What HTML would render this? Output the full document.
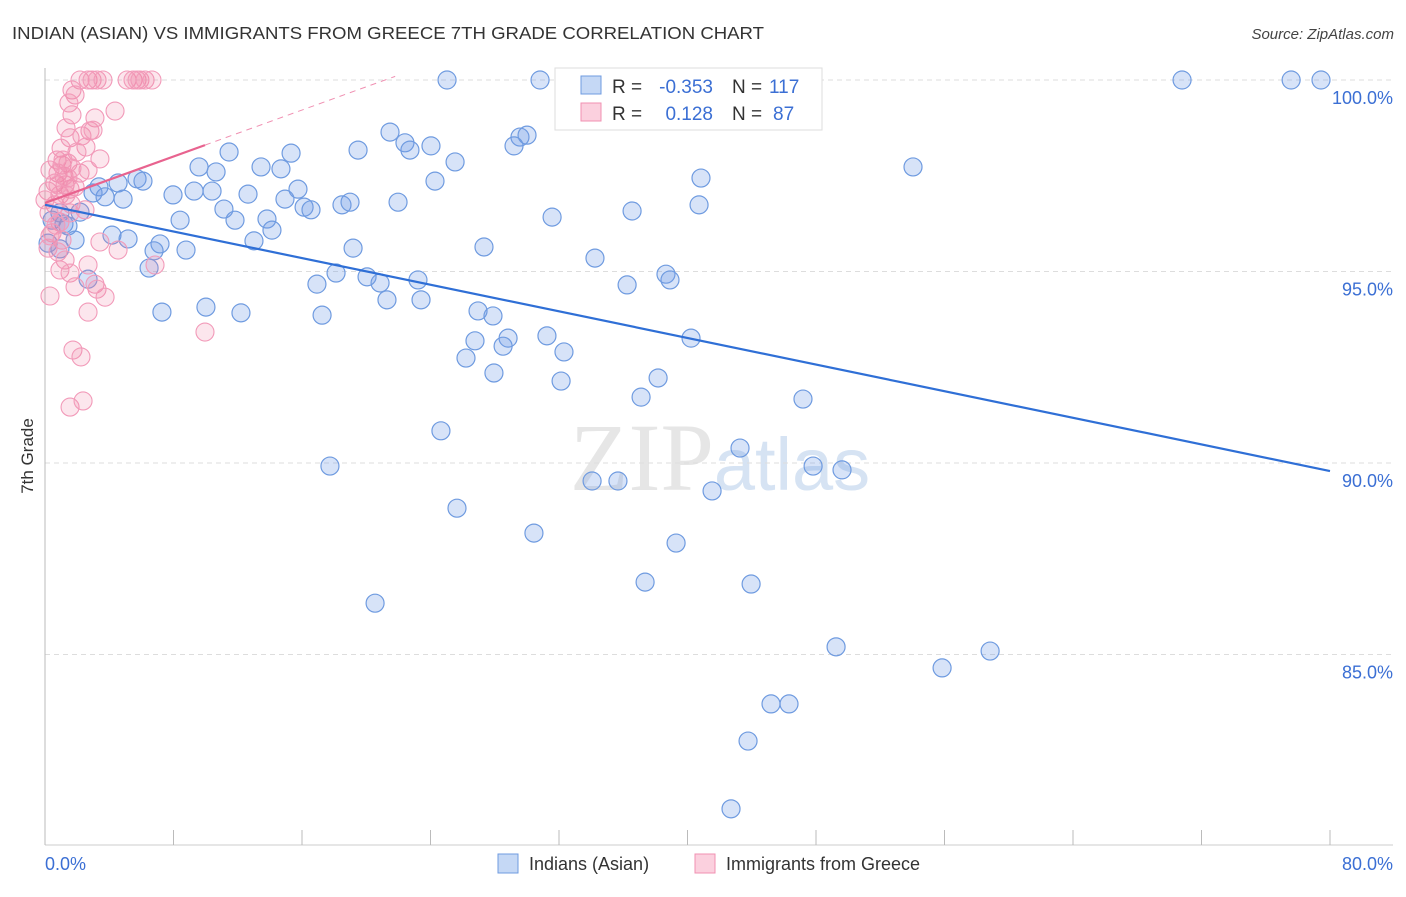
<!DOCTYPE html>
<html><head><meta charset="utf-8"><style>
body{margin:0;background:#fff;font-family:"Liberation Sans",sans-serif;}
</style></head><body>
<svg id="chart" width="1406" height="892" xmlns="http://www.w3.org/2000/svg" style="font-family:'Liberation Sans',sans-serif">
<text x="12" y="39" font-size="17.5" fill="#333" textLength="752" lengthAdjust="spacingAndGlyphs">INDIAN (ASIAN) VS IMMIGRANTS FROM GREECE 7TH GRADE CORRELATION CHART</text>
<text x="1394" y="39" font-size="15" fill="#444" text-anchor="end" font-style="italic">Source: ZipAtlas.com</text>
<text x="720" y="490" font-size="96" fill="#e6e6e6" text-anchor="middle" font-family="Liberation Serif,serif">ZIP<tspan fill="#d6e3f3" font-family="Liberation Sans,sans-serif" font-size="74">atlas</tspan></text>
<g id="grid"></g><g id="axes"></g><g id="pts"></g><g id="lines"></g>
<text transform="translate(33,456) rotate(-90)" font-size="17" fill="#333" text-anchor="middle">7th Grade</text>
<g>
<rect x="555" y="68" width="267" height="62" fill="#fff" stroke="#ddd"/>
<rect x="581" y="76" width="20" height="18" fill="#c5d8f5" stroke="#6f9be0"/>
<rect x="581" y="103" width="20" height="18" fill="#fbd0de" stroke="#f090b2"/>
<text x="612" y="93" font-size="19" fill="#333">R =</text>
<text x="713" y="93" font-size="19" fill="#3b6fd4" text-anchor="end">-0.353</text>
<text x="732" y="93" font-size="19" fill="#333">N =</text>
<text x="769" y="93" font-size="19" fill="#3b6fd4">117</text>
<text x="612" y="120" font-size="19" fill="#333">R =</text>
<text x="713" y="120" font-size="19" fill="#3b6fd4" text-anchor="end">0.128</text>
<text x="732" y="120" font-size="19" fill="#333">N =</text>
<text x="773" y="120" font-size="19" fill="#3b6fd4">87</text>
</g>
<g>
<rect x="498" y="854" width="20" height="19" fill="#c5d8f5" stroke="#6f9be0"/>
<text x="529" y="870" font-size="18" fill="#333">Indians (Asian)</text>
<rect x="695" y="854" width="20" height="19" fill="#fbd0de" stroke="#f090b2"/>
<text x="726" y="870" font-size="18" fill="#333">Immigrants from Greece</text>
</g>
</svg>
<script>
const yTicks=[100,95,90,85];
const yTickLabels=["100.0%","95.0%","90.0%","85.0%"];
const xTickValues=[0,8,16,24,32,40,48,56,64,72,80];
const blueX=[25.03,30.82,70.79,77.58,79.44,46.82,21.48,22.41,22.72,24.03,19.49,29.57,30.01,29.20,15.32,11.46,9.59,10.65,13.45,14.69,25.53,54.04,40.84,24.28,15.75,5.73,6.10,4.55,3.36,2.99,3.74,4.86,7.97,9.28,10.40,12.64,14.94,16.13,16.56,18.49,18.99,21.98,11.14,11.83,8.41,13.82,14.13,36.55,31.57,40.72,2.18,0.93,0.44,1.18,1.43,4.17,5.17,1.87,7.16,6.79,8.78,13.01,19.18,27.33,34.24,6.48,18.12,20.05,20.86,16.93,23.22,21.29,23.41,38.66,38.91,36.24,2.68,7.28,10.02,12.20,17.25,26.96,27.89,31.25,26.77,28.83,28.52,40.22,32.31,26.21,27.95,32.13,38.17,37.11,47.19,24.65,43.27,17.74,47.82,49.62,34.06,35.67,41.53,25.65,30.44,39.29,37.36,43.96,20.55,49.25,58.84,55.85,45.20,46.32,43.77,42.71,0.93,0.19];
const blueY=[100,100,100,100,100,100,98.64,98.36,98.17,98.28,98.17,98.51,98.56,98.28,98.09,98.12,97.73,97.60,97.73,97.68,97.86,97.73,97.44,97.36,97.15,97.42,97.36,97.31,97.21,97.05,96.95,96.89,97.00,97.10,97.10,97.02,96.89,96.68,96.61,96.74,96.81,96.81,96.63,96.34,96.34,96.37,96.08,96.58,96.42,96.74,96.55,96.53,96.34,96.24,96.19,95.95,95.85,95.82,95.72,95.54,95.56,95.80,95.61,95.64,95.35,95.09,94.96,94.86,94.70,94.67,94.78,94.26,94.26,94.93,94.78,94.65,94.80,93.94,94.07,93.92,93.86,93.97,93.84,93.32,93.19,93.26,93.05,93.26,92.90,92.74,92.35,92.14,92.22,91.72,91.67,90.84,90.39,89.92,89.92,89.82,89.53,89.53,89.27,88.82,88.17,87.91,86.89,86.84,86.34,85.20,85.09,84.65,83.71,83.71,82.74,80.97,95.59,95.74];
const pinkX=[2.18,2.68,2.93,3.24,3.61,5.11,5.48,5.73,5.91,6.23,6.66,1.68,1.87,1.49,1.68,4.36,3.11,1.31,2.80,1.56,2.30,2.55,1.00,3.42,0.75,1.06,1.43,0.81,2.18,0.31,0.62,1.25,1.56,0.19,0.93,1.87,0.62,1.62,0.25,0.93,2.49,1.56,0.44,1.06,0.19,0.81,3.42,4.55,1.25,2.68,0.93,1.56,0.31,3.11,3.24,3.74,1.87,2.68,6.85,9.96,1.74,2.24,1.56,2.37,0.31,0.68,1.31,1.99,2.68,1.18,2.99,0,1.12,1.68,0.81,1.43];
const pinkY=[100,100,100,100,100,100,100,100,100,100,100,99.74,99.61,99.40,99.09,99.19,99.01,98.75,98.67,98.49,98.54,98.25,98.22,97.94,97.91,97.78,97.83,97.57,97.57,97.65,97.31,97.26,97.15,97.10,97.00,97.21,96.74,96.76,96.53,96.29,96.61,96.53,96.01,95.82,95.61,95.51,95.77,95.56,95.30,95.17,95.04,94.96,94.36,94.67,94.54,94.33,94.60,93.94,95.17,93.42,92.95,92.77,91.46,91.62,95.93,96.21,97.00,98.12,97.65,97.49,98.69,96.87,97.91,97.70,97.26,97.44];
const blueTrend=[96.74,89.79];
const pinkTrend=[96.79,98.30,9.96];
const NS="http://www.w3.org/2000/svg";
const sx=v=>45+v*1285/80;
const sy=v=>80+(100-v)*38.3;
function mk(tag,attrs,parent){const e=document.createElementNS(NS,tag);for(const k in attrs)e.setAttribute(k,attrs[k]);document.getElementById(parent).appendChild(e);return e;}
yTicks.forEach((t,i)=>{
 const g=mk('line',{x1:45,x2:1393,y1:sy(t),y2:sy(t),stroke:'#ddd','stroke-dasharray':'5,4'},'grid');
 
 
 const l=mk('text',{x:1393,y:sy(t)+24,'font-size':18,fill:'#3b6fd4','text-anchor':'end'},'grid');
 l.textContent=yTickLabels[i];
 
 
});
const ya=mk('line',{x1:45,x2:45,y1:68,y2:845,stroke:'#bbb'},'axes');


const xa=mk('line',{x1:45,x2:1393,y1:845,y2:845,stroke:'#ccc'},'axes');


xTickValues.forEach(v=>{
 const t=mk('line',{x1:sx(v),x2:sx(v),y1:830,y2:845,stroke:'#bbb'},'axes');
 
 
});
const xl0=mk('text',{x:45,y:870,'font-size':18,fill:'#3b6fd4'},'axes');xl0.textContent=xTickValues[0].toFixed(1)+'%';


const xl1=mk('text',{x:1393,y:870,'font-size':18,fill:'#3b6fd4','text-anchor':'end'},'axes');xl1.textContent=xTickValues[10].toFixed(1)+'%';


blueX.forEach((x,i)=>{
 const c=mk('circle',{cx:sx(x),cy:sy(blueY[i]),r:9,fill:'rgba(110,155,230,0.28)',stroke:'#6f9be0','stroke-width':1.2},'pts');
 
 
});
pinkX.forEach((x,i)=>{
 const c=mk('circle',{cx:sx(x),cy:sy(pinkY[i]),r:9,fill:'rgba(240,130,165,0.2)',stroke:'#f29ab9','stroke-width':1.1},'pts');
 
 
});
const bl=mk('line',{x1:sx(0),y1:sy(blueTrend[0]),x2:sx(80),y2:sy(blueTrend[1]),stroke:'#2f6fd6','stroke-width':2.2},'lines');


const slope=(pinkTrend[1]-pinkTrend[0])/pinkTrend[2];
const pd=mk('line',{x1:sx(pinkTrend[2]),y1:sy(pinkTrend[1]),x2:sx(21.8),y2:sy(pinkTrend[0]+slope*21.8),stroke:'#f090b2','stroke-width':1,'stroke-dasharray':'6,5'},'lines');


const pl=mk('line',{x1:sx(0),y1:sy(pinkTrend[0]),x2:sx(pinkTrend[2]),y2:sy(pinkTrend[1]),stroke:'#e8638f','stroke-width':2.2},'lines');


</script>
</body></html>
